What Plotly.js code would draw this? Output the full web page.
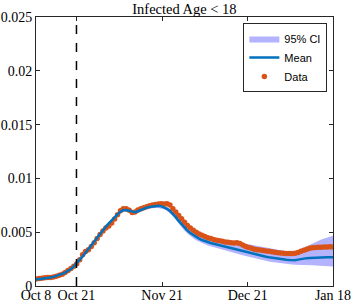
<!DOCTYPE html>
<html>
<head>
<meta charset="utf-8">
<script src="https://cdn.plot.ly/plotly-3.0.1.min.js"></script>
<style>html,body{margin:0;padding:0;background:#fff;}#chart{width:354px;height:303px;}</style>
</head>
<body>
<div id="chart"></div>
<script>
// Days since Oct 8
const days = [0,1,2,3,4,5,6,7,8,9,10,11,12,13,14,15,16,17,18,19,20,21,22,23,24,25,26,27,28,29,30,31,32,33,34,35,36,37,38,39,40,41,42,43,44,45,46,47,48,49,50,51,52,53,54,55,56,57,58,59,60,61,62,63,64,65,66,67,68,69,70,71,72,73,74,75,76,77,78,79,80,81,82,83,84,85,86,87,88,89,90,91,92,93,94,95,96,97,98,99,100,101,102];

const meanVals = [.00060,.00063,.00067,.00071,.00075,.00079,.00085,.00092,.00101,.00112,.00125,.00140,.00158,.00182,.00210,.00240,.00275,.00310,.00345,.00383,.00420,.00455,.00490,.00522,.00552,.00582,.00612,.00640,.00666,.00690,.00704,.00707,.00700,.00688,.00686,.00695,.00708,.00719,.00728,.00735,.00741,.00745,.00746,.00742,.00733,.00718,.00697,.00672,.00640,.00605,.00572,.00542,.00515,.00492,.00472,.00455,.00440,.00427,.00416,.00407,.00400,.00393,.00386,.00379,.00372,.00365,.00358,.00351,.00344,.00337,.00330,.00323,.00316,.00309,.00302,.00295,.00289,.00283,.00277,.00272,.00267,.00262,.00258,.00254,.00250,.00247,.00244,.00241,.00239,.00240,.00245,.00251,.00256,.00259,.00261,.00263,.00264,.00265,.00266,.00266,.00267,.00267,.00267];

const ciUpper = [.00072,.00075,.00079,.00083,.00087,.00091,.00097,.00104,.00113,.00124,.00137,.00152,.00170,.00194,.00222,.00252,.00287,.00322,.00357,.00395,.00432,.00467,.00502,.00534,.00564,.00594,.00624,.00652,.00678,.00702,.00716,.00719,.00712,.00700,.00698,.00707,.00720,.00731,.00740,.00747,.00753,.00755,.00756,.00752,.00745,.00735,.00722,.00705,.00680,.00650,.00620,.00592,.00565,.00542,.00522,.00505,.00490,.00478,.00468,.00460,.00454,.00449,.00444,.00439,.00434,.00429,.00424,.00419,.00414,.00409,.00404,.00399,.00394,.00388,.00382,.00375,.00369,.00363,.00357,.00352,.00347,.00342,.00338,.00334,.00330,.00327,.00324,.00321,.00319,.00322,.00332,.00345,.00358,.00372,.00386,.00400,.00412,.00422,.00432,.00441,.00450,.00459,.00467];

const ciLower = [.00050,.00053,.00057,.00061,.00065,.00069,.00075,.00082,.00091,.00102,.00115,.00130,.00148,.00172,.00200,.00230,.00265,.00300,.00335,.00373,.00410,.00445,.00480,.00512,.00542,.00572,.00602,.00630,.00656,.00675,.00689,.00692,.00685,.00673,.00671,.00680,.00693,.00704,.00713,.00720,.00726,.00725,.00726,.00722,.00713,.00698,.00677,.00650,.00615,.00578,.00545,.00514,.00487,.00463,.00443,.00426,.00411,.00398,.00387,.00377,.00370,.00362,.00355,.00347,.00339,.00331,.00323,.00316,.00308,.00300,.00293,.00286,.00278,.00271,.00263,.00256,.00249,.00243,.00237,.00232,.00227,.00222,.00218,.00214,.00210,.00207,.00204,.00201,.00199,.00198,.00198,.00198,.00197,.00196,.00194,.00192,.00190,.00189,.00187,.00185,.00184,.00183,.00182];

const dataVals = [.00066,.00069,.00073,.00076,.00078,.00080,.00084,.00091,.00099,.00110,.00126,.00144,.00163,.00183,.00206,.00245,.00290,.00320,.00338,.00368,.00402,.00442,.00478,.00512,.00538,.00558,.00585,.00622,.00662,.00700,.00718,.00718,.00704,.00682,.00688,.00706,.00718,.00728,.00737,.00746,.00753,.00758,.00762,.00764,.00763,.00764,.00752,.00718,.00688,.00656,.00624,.00592,.00562,.00538,.00518,.00500,.00484,.00471,.00459,.00449,.00441,.00433,.00426,.00420,.00415,.00410,.00406,.00402,.00400,.00403,.00394,.00380,.00368,.00358,.00350,.00342,.00338,.00334,.00330,.00326,.00322,.00318,.00314,.00310,.00307,.00305,.00303,.00302,.00302,.00305,.00312,.00322,.00332,.00342,.00350,.00355,.00358,.00360,.00361,.00362,.00363,.00364,.00363];

const tickPos = [0, 13.9, 43.3, 72.7, 102];
const tickLabels = ['Oct 8', 'Oct 21', 'Nov 21', 'Dec 21', 'Jan 18'];
const yTickVals = [0, 0.005, 0.01, 0.015, 0.02, 0.025];
const yTickLabels = ['0', '0.005', '0.01', '0.015', '0.02', '0.025'];
const interventionDay = 13.9;

const serif = 'Liberation Serif, Times New Roman, serif';
const sans = 'Liberation Sans, Arial, sans-serif';

const traces = [
  {x: days, y: ciLower, type: 'scatter', mode: 'lines', line: {width: 0, color: 'rgba(0,0,0,0)'}, showlegend: false, hoverinfo: 'skip'},
  {x: days, y: ciUpper, type: 'scatter', mode: 'lines', fill: 'tonexty', fillcolor: 'rgb(179,179,255)', line: {width: 0, color: 'rgb(179,179,255)'}, name: '95% CI', legendrank: 1},
  {x: days, y: dataVals, type: 'scatter', mode: 'markers', marker: {color: '#D95319', size: 5.5, symbol: 'circle'}, name: 'Data', legendrank: 3},
  {x: days, y: meanVals, type: 'scatter', mode: 'lines', line: {color: '#0072BD', width: 2.5}, name: 'Mean', legendrank: 2}
];

const layout = {
  width: 354, height: 303,
  margin: {l: 35.5, r: 20.5, t: 17, b: 17, pad: 0},
  paper_bgcolor: '#fff', plot_bgcolor: '#fff',
  title: {text: 'Infected Age &lt; 18', font: {family: serif, size: 14.5, color: '#000'}, x: 0.521, xanchor: 'center', y: 0.972, yanchor: 'middle'},
  xaxis: {
    range: [0, 102], tickvals: tickPos, ticktext: tickLabels,
    showgrid: false, zeroline: false, showline: true, linecolor: '#262626', linewidth: 1,
    mirror: 'ticks', ticks: 'inside', ticklen: 4, tickcolor: '#262626',
    ticklabelstandoff: -4,
    tickfont: {family: serif, size: 14, color: '#000'}
  },
  yaxis: {
    range: [0, 0.025], tickvals: yTickVals, ticktext: yTickLabels,
    showgrid: false, zeroline: false, showline: true, linecolor: '#262626', linewidth: 1,
    mirror: 'ticks', ticks: 'inside', ticklen: 4, tickcolor: '#262626',
    tickfont: {family: serif, size: 14, color: '#000'}
  },
  shapes: [{type: 'line', xref: 'x', yref: 'paper', x0: interventionDay, x1: interventionDay, y0: 0, y1: 1, line: {color: '#000', width: 1.5, dash: 'dash'}}],
  legend: {
    x: 0.981, y: 0.978, xanchor: 'right', yanchor: 'top',
    bgcolor: '#fff', bordercolor: '#262626', borderwidth: 1,
    font: {family: sans, size: 11, color: '#000'},
    traceorder: 'normal', tracegroupgap: 0, itemwidth: 30
  },
  showlegend: true
};

Plotly.newPlot('chart', traces, layout, {displayModeBar: false, staticPlot: true});
</script>
</body>
</html>
